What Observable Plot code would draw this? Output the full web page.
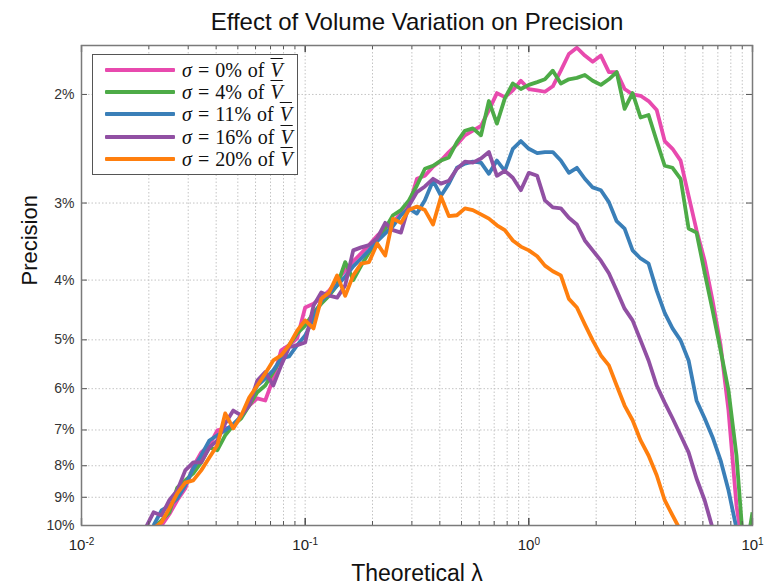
<!DOCTYPE html>
<html><head><meta charset="utf-8">
<script src="https://cdn.jsdelivr.net/npm/d3@7"></script>
<script src="https://cdn.jsdelivr.net/npm/@observablehq/plot@0.6"></script>
<style>
body{margin:0;background:#fff;}
#wrap{position:relative;width:771px;height:585px;overflow:hidden;}
#wrap svg{position:absolute;left:0;top:0;}
#legend{position:absolute;left:92px;top:54px;width:206px;height:121px;border:1.5px solid #555;background:#fff;box-sizing:border-box;font-family:"Liberation Serif","DejaVu Serif",serif;font-size:20px;color:#111;}
.sw{position:absolute;left:12px;width:70px;height:4px;border-radius:1px;}
.lb{position:absolute;left:89px;white-space:nowrap;line-height:20px;height:20px;word-spacing:1px;}
.lb i{font-style:italic;}
.vb{font-style:italic;text-decoration:overline;text-decoration-thickness:1px;}
</style></head>
<body><div id="wrap"><div id="legend"></div></div>
<script>
// Theoretical lambda (shared x values)
const lambda = [
  0.0193,0.0210,0.0228,0.0247,0.0268,0.0291,0.0316,0.0343,
  0.0373,0.0405,0.0439,0.0477,0.0518,0.0562,0.0611,0.0663,
  0.0720,0.0781,0.0848,0.0921,0.100,0.109,0.118,0.128,
  0.139,0.151,0.164,0.178,0.193,0.210,0.228,0.247,
  0.268,0.291,0.316,0.343,0.373,0.405,0.439,0.477,
  0.518,0.562,0.611,0.663,0.720,0.781,0.848,0.921,
  1.00,1.09,1.18,1.28,1.39,1.51,1.64,1.78,
  1.93,2.10,2.28,2.47,2.68,2.91,3.16,3.43,
  3.73,4.05,4.39,4.77,5.18,5.62,6.11,6.63,
  7.20,7.81,8.48,9.21,10.0
];
// Precision (%) per sigma
const p0 = [
  null,null,10.0,9.59,9.10,8.71,8.02,7.61,
  7.41,7.01,6.96,6.91,6.63,6.39,6.22,6.27,
  5.78,5.20,5.10,4.97,4.43,4.37,4.27,4.16,
  4.00,3.86,3.73,3.62,3.51,3.39,3.30,3.23,
  3.11,3.03,2.74,2.71,2.62,2.56,2.48,2.41,
  2.33,2.29,2.25,2.12,1.99,2.02,1.97,1.90,
  1.96,1.97,1.98,1.94,1.83,1.72,1.68,1.73,
  1.77,1.73,1.84,1.84,1.96,2.00,2.01,2.05,
  2.12,2.38,2.45,2.56,2.92,3.32,3.72,4.32,
  5.10,6.51,9.28,11.4,null
];
const p4 = [
  null,10.11,9.81,9.52,8.68,8.45,8.23,7.90,
  7.47,7.55,7.14,6.88,6.70,6.39,6.08,5.93,
  5.64,5.36,5.10,4.88,4.74,4.52,4.37,4.24,
  4.08,3.74,4.00,3.79,3.61,3.45,3.30,3.14,
  3.08,2.97,2.81,2.64,2.61,2.56,2.53,2.39,
  2.29,2.27,2.33,2.05,2.23,2.03,1.92,1.96,
  1.93,1.91,1.89,1.83,1.92,1.89,1.88,1.86,
  1.90,1.93,1.89,1.84,2.11,1.99,2.18,2.16,
  2.38,2.61,2.63,2.74,3.30,3.35,3.89,4.48,
  5.20,6.04,7.70,11.4,9.52
];
const p11 = [
  null,10.0,9.45,9.28,9.04,8.61,8.08,7.70,
  7.28,7.14,7.01,6.85,6.65,6.27,5.93,5.78,
  5.60,5.36,5.32,5.10,4.92,4.62,4.32,4.21,
  4.08,3.95,3.80,3.69,3.58,3.46,3.36,3.27,
  3.14,3.06,3.12,2.97,2.76,2.92,2.79,2.63,
  2.59,2.57,2.58,2.69,2.56,2.66,2.45,2.38,
  2.45,2.49,2.48,2.48,2.56,2.68,2.63,2.74,
  2.83,2.86,2.99,3.21,3.30,3.58,3.69,3.76,
  4.16,4.52,4.79,5.01,5.40,6.27,6.70,7.19,
  7.84,8.77,10.11,null,null
];
const p16 = [
  10.11,9.52,9.63,9.10,8.77,8.14,7.90,7.90,
  7.47,7.28,6.83,6.51,6.63,6.39,5.82,5.64,
  5.93,5.50,5.14,5.10,5.05,4.40,4.19,4.24,
  4.27,4.08,3.58,3.54,3.51,3.42,3.23,3.32,
  3.35,3.03,2.88,2.82,2.74,2.79,2.76,2.64,
  2.57,2.58,2.54,2.48,2.71,2.66,2.73,2.86,
  2.68,2.71,2.97,3.05,3.06,3.17,3.25,3.45,
  3.58,3.72,3.90,4.16,4.45,4.65,5.01,5.40,
  5.93,6.32,6.70,7.14,7.61,8.39,9.10,10.1,
  null,null,null,null,null
];
const p20 = [
  null,10.11,9.88,9.38,8.87,8.52,8.45,8.14,
  7.76,7.41,6.58,6.96,6.63,6.20,5.93,5.67,
  5.40,5.30,5.10,4.83,4.65,4.79,4.29,4.19,
  3.93,4.24,3.93,3.76,3.74,3.49,3.65,3.18,
  3.23,3.08,3.04,3.08,3.25,2.93,3.15,3.14,
  3.06,3.08,3.13,3.18,3.26,3.32,3.45,3.53,
  3.58,3.66,3.79,3.87,3.93,4.29,4.43,4.72,
  5.01,5.30,5.50,5.93,6.39,6.75,7.28,7.70,
  8.29,9.10,9.63,10.19,null,null,null,null,
  null,null,null,null,null
];
const sigmaLabels = ["0%","4%","11%","16%","20%"];
const colors = ["#e84aae","#4dab47","#3a7fb8","#9150a3","#ff7f0e"];
const seriesValues = [p0,p4,p11,p16,p20];

const xMajor = [0.01,0.1,1,10];
const xMinor = [0.02,0.03,0.04,0.05,0.06,0.07,0.08,0.09,
                0.2,0.3,0.4,0.5,0.6,0.7,0.8,0.9,
                2,3,4,5,6,7,8,9];
const xExponents = {"0.01":"-2","0.1":"-1","1":"0","10":"1"};
const yTicks = [2,3,4,5,6,7,8,9,10];

const W = 771, H = 585, mL = 81, mR = 19, mT = 45, mB = 60;
const pw = W - mL - mR, ph = H - mT - mB;

const lineMarks = seriesValues.map((vals, s) => {
  const data = lambda.map((l, i) => ({l, p: vals[i]})).filter(d => d.p != null);
  return Plot.line(data, {x: "l", y: "p", stroke: colors[s], strokeWidth: 3.8,
    strokeLinejoin: "round", strokeLinecap: "butt", clip: true});
});

const chart = Plot.plot({
  width: W, height: H,
  marginLeft: mL, marginRight: mR, marginTop: mT, marginBottom: mB,
  style: {fontFamily: "'Liberation Sans', Arial, sans-serif", fontSize: "14px", color: "#333", background: "white"},
  x: {type: "log", domain: [0.01, 10], ticks: xMajor, tickFormat: d => "XT" + xExponents[String(d)], tickSize: 0, tickPadding: 14, label: null},
  y: {type: "log", domain: [10, 1.666], ticks: yTicks, tickFormat: d => d + "%", tickSize: 0, tickPadding: 7, label: null},
  marks: [
    Plot.ruleX(xMinor.concat(xMajor.slice(1,3)), {x: d => d, stroke: "#c4c4c4", strokeWidth: 1, strokeDasharray: "1.5,2"}),
    Plot.ruleY(yTicks.slice(0, 8), {y: d => d, stroke: "#c4c4c4", strokeWidth: 1, strokeDasharray: "1.5,2"}),
    ...lineMarks,
    Plot.tickX(xMinor, {x: d => d, insetTop: ph - 4, stroke: "#555"}),
    Plot.tickX(xMinor, {x: d => d, insetBottom: ph - 4, stroke: "#555"}),
    Plot.tickX(xMajor, {x: d => d, insetTop: ph - 7, stroke: "#333", strokeWidth: 1.3}),
    Plot.tickX(xMajor, {x: d => d, insetBottom: ph - 7, stroke: "#333", strokeWidth: 1.3}),
    Plot.tickY(yTicks, {y: d => d, insetRight: pw - 6, stroke: "#555"}),
    Plot.tickY(yTicks, {y: d => d, insetLeft: pw - 6, stroke: "#555"}),
    Plot.frame({stroke: "#7a7a7a", strokeWidth: 1.5}),
    Plot.text(["Effect of Volume Variation on Precision"], {frameAnchor: "top", dy: -23, lineAnchor: "middle", text: d => d, fontSize: 24, fill: "#111"}),
    Plot.text(["Theoretical \u03BB"], {frameAnchor: "bottom", dy: 48, lineAnchor: "middle", text: d => d, fontSize: 23, fill: "#111"}),
    Plot.text(["Precision"], {frameAnchor: "left", dx: -52, rotate: -90, text: d => d, fontSize: 22, fill: "#111"})
  ]
});
document.getElementById("wrap").prepend(chart);

// x tick labels as 10 with raised exponent
d3.select(chart).selectAll("text").each(function() {
  const t = this.textContent;
  if (t.startsWith("XT")) {
    const exp = t.slice(2);
    const sel = d3.select(this);
    sel.text(null).attr("font-size", 15).attr("fill", "#222");
    sel.append("tspan").text("10");
    sel.append("tspan").attr("dy", "-0.55em").attr("font-size", 10).text(exp);
  }
});

// legend
const leg = document.getElementById("legend");
const rowY = [16, 38.3, 60.7, 83, 105.3];
sigmaLabels.forEach((lab, i) => {
  const sw = document.createElement("div");
  sw.className = "sw";
  sw.style.top = (rowY[i] - 1.5 - 2) + "px";
  sw.style.background = colors[i];
  leg.appendChild(sw);
  const t = document.createElement("div");
  t.className = "lb";
  t.style.top = (rowY[i] - 1.5 - 10) + "px";
  t.innerHTML = '<i>\u03C3</i> = ' + lab + ' of <span class="vb">V</span>';
  leg.appendChild(t);
});
</script></body></html>
